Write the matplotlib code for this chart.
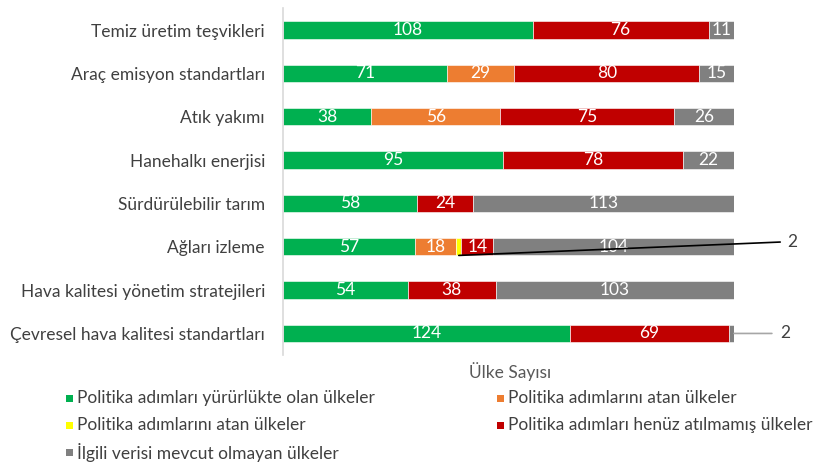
import numpy as np
import matplotlib.pyplot as plt
from matplotlib.patches import Rectangle

plt.rcParams['font.family'] = ['Lato', 'DejaVu Sans']

# ================================
# Data
# ================================
categories = [
    'Temiz üretim teşvikleri',
    'Araç emisyon standartları',
    'Atık yakımı',
    'Hanehalkı enerjisi',
    'Sürdürülebilir tarım',
    'Ağları izleme',
    'Hava kalitesi yönetim stratejileri',
    'Çevresel hava kalitesi standartları',
]
yururlukte = [108, 71, 38, 95, 58, 57, 54, 124]
atan_turuncu = [0, 29, 56, 0, 0, 18, 0, 0]
atan_sari = [0, 0, 0, 0, 0, 2, 0, 0]
atilmamis = [76, 80, 75, 78, 24, 14, 38, 69]
veri_yok = [11, 15, 26, 22, 113, 104, 103, 2]

series_names = [
    'Politika adımları yürürlükte olan ülkeler',
    'Politika adımlarını atan ülkeler',
    'Politika adımlarını atan ülkeler',
    'Politika adımları henüz atılmamış ülkeler',
    'İlgili verisi mevcut olmayan ülkeler',
]
colors = ['#00B050', '#ED7D31', '#FFFF00', '#C00000', '#808080']
series = [yururlukte, atan_turuncu, atan_sari, atilmamis, veri_yok]

FS = 12.5
W, H = 821, 463

# ================================
# Plot
# ================================
fig = plt.figure(figsize=(W / 100, H / 100), dpi=100)
ax = fig.add_axes([0.3447, 0.233, 0.5493, 0.749])

y = np.arange(len(categories))
left = np.zeros(len(categories))
for vals, col in zip(series, colors):
    vals = np.array(vals)
    ax.barh(y, vals, left=left, height=0.4, color=col, edgecolor='white', linewidth=0.4)
    for i, v in enumerate(vals):
        if v >= 10:
            ax.text(left[i] + v / 2, y[i], str(v), ha='center', va='center',
                    color='white', fontsize=FS)
    left = left + vals

# leader labels for the small segments
i = categories.index('Ağları izleme')
x0 = yururlukte[i] + atan_turuncu[i] + atan_sari[i] / 2
ax.annotate(str(atan_sari[i]), xy=(x0, y[i] + 0.2), xytext=(218, y[i] - 0.12),
            ha='left', va='center', fontsize=FS, color='#404040',
            arrowprops=dict(arrowstyle='-', color='black', lw=1.2, shrinkA=3, shrinkB=0),
            annotation_clip=False)
i = categories.index('Çevresel hava kalitesi standartları')
ax.annotate(str(veri_yok[i]), xy=(195, y[i]), xytext=(215, y[i]),
            ha='left', va='center', fontsize=FS, color='#404040',
            arrowprops=dict(arrowstyle='-', color='#a6a6a6', lw=1.2, shrinkA=4, shrinkB=0),
            annotation_clip=False)

ax.set_xlim(0, 195)
ax.set_ylim(len(categories) - 0.5, -0.5)
ax.set_yticks(y)
ax.set_yticklabels(categories, fontsize=FS, color='#404040')
ax.set_xticks([])
ax.tick_params(axis='y', length=0, pad=13)
for s in ['top', 'right', 'bottom']:
    ax.spines[s].set_visible(False)
ax.spines['left'].set_color('#d9d9d9')
ax.spines['left'].set_linewidth(1.2)

fig.text(0.621, 0.197, 'Ülke Sayısı', ha='center', va='center', fontsize=FS, color='#595959')

# ================================
# Legend (drawn by hand, two columns read row by row)
# ================================
leg_pos = [(66, 398), (497, 398), (66, 425), (497, 425), (66, 452)]  # pixel positions
for (px, py), name, col in zip(leg_pos, series_names, colors):
    fig.patches.append(Rectangle((px / W, (H - py - 3.5) / H), 7 / W, 7 / H,
                                 facecolor=col, edgecolor='none',
                                 transform=fig.transFigure, figure=fig))
    fig.text((px + 11) / W, (H - py) / H, name, ha='left', va='center',
             fontsize=FS, color='#404040')

fig.savefig('out.png', dpi=100)
